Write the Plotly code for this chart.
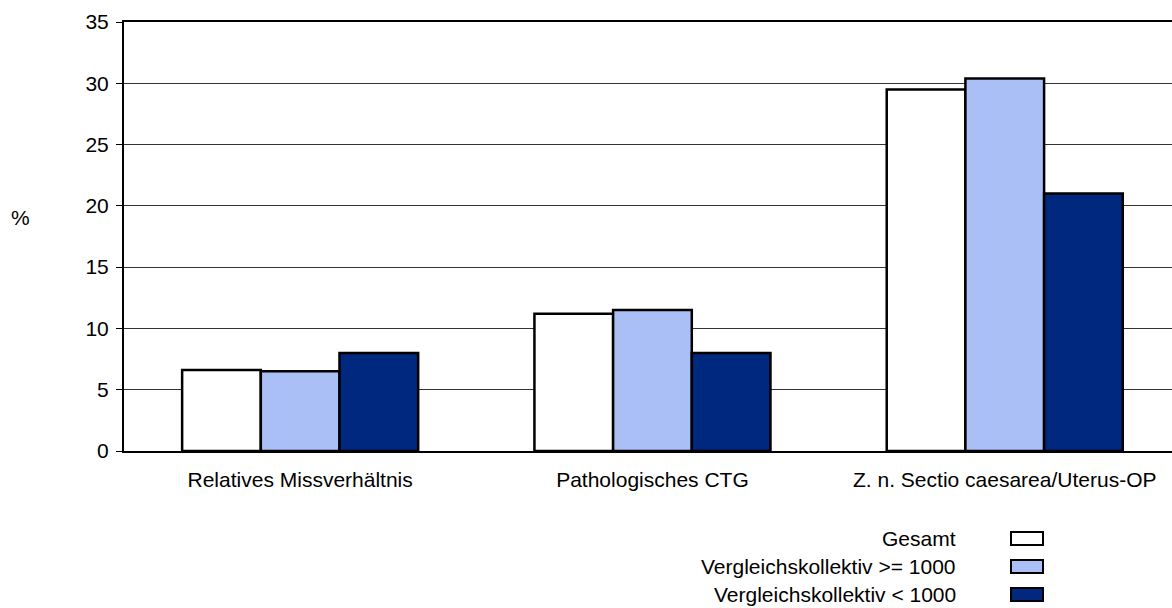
import plotly.graph_objects as go

# Data
categories = ["Relatives Missverhältnis", "Pathologisches CTG", "Z. n. Sectio caesarea/Uterus-OP"]
series_names = ["Gesamt", "Vergleichskollektiv >= 1000", "Vergleichskollektiv < 1000"]
gesamt = [6.6, 11.2, 29.5]
vk_ge_1000 = [6.5, 11.5, 30.4]
vk_lt_1000 = [8.0, 8.0, 21.0]
y_ticks = [0, 5, 10, 15, 20, 25, 30, 35]

colors = ["#FFFFFF", "#A9BFF5", "#00287F"]
FONT = "Arial, 'Liberation Sans', sans-serif"
FS = 21

W, H = 1172, 608
L, T, B = 124, 22, 157          # plot area margins in px
PW, PH = W - L, H - T - B

def px_x(x):
    return (x - L) / PW

def px_y(y):
    return (H - B - y) / PH

fig = go.Figure()
for name, vals, col in zip(series_names, [gesamt, vk_ge_1000, vk_lt_1000], colors):
    fig.add_trace(go.Bar(
        x=categories, y=vals, name=name,
        marker=dict(color=col, line=dict(color="black", width=2.5)),
        showlegend=False,
    ))

# Right-aligned legend: label text followed by colour swatch
legend_y = [538, 566, 594]
for name, col, ly in zip(series_names, colors, legend_y):
    fig.add_annotation(
        text=name, xref="paper", yref="paper",
        x=px_x(958), y=px_y(ly), xanchor="right", yanchor="middle",
        showarrow=False, font=dict(family=FONT, size=FS, color="black"),
    )
    fig.add_shape(
        type="rect", xref="paper", yref="paper",
        x0=px_x(1011), x1=px_x(1043), y0=px_y(ly - 6), y1=px_y(ly + 7),
        fillcolor=col, line=dict(color="black", width=2),
    )

fig.add_annotation(
    text="%", xref="paper", yref="paper", x=px_x(20), y=px_y(218),
    xanchor="center", yanchor="middle", showarrow=False,
    font=dict(family=FONT, size=FS, color="black"),
)

x_max = -0.5 + PW / 352.3
fig.update_layout(
    width=W, height=H,
    margin=dict(l=L, r=0, t=T, b=B, pad=0),
    paper_bgcolor="white", plot_bgcolor="white",
    barmode="group", bargap=0.33, bargroupgap=0,
    font=dict(family=FONT, size=FS, color="black"),
    xaxis=dict(
        range=[-0.5, x_max], showgrid=False, zeroline=False,
        showline=True, mirror=True, linecolor="black", linewidth=2,
        ticks="", tickfont=dict(family=FONT, size=FS, color="black"),
        ticklabelstandoff=9,
    ),
    yaxis=dict(
        range=[0, 35], tickvals=y_ticks, showgrid=True,
        gridcolor="#333333", gridwidth=1, zeroline=False,
        showline=True, linecolor="black", linewidth=2,
        ticks="outside", ticklen=6, tickcolor="black", tickwidth=1,
        tickfont=dict(family=FONT, size=FS, color="black"),
        ticklabelstandoff=3,
    ),
)

fig.write_html("out.html")
